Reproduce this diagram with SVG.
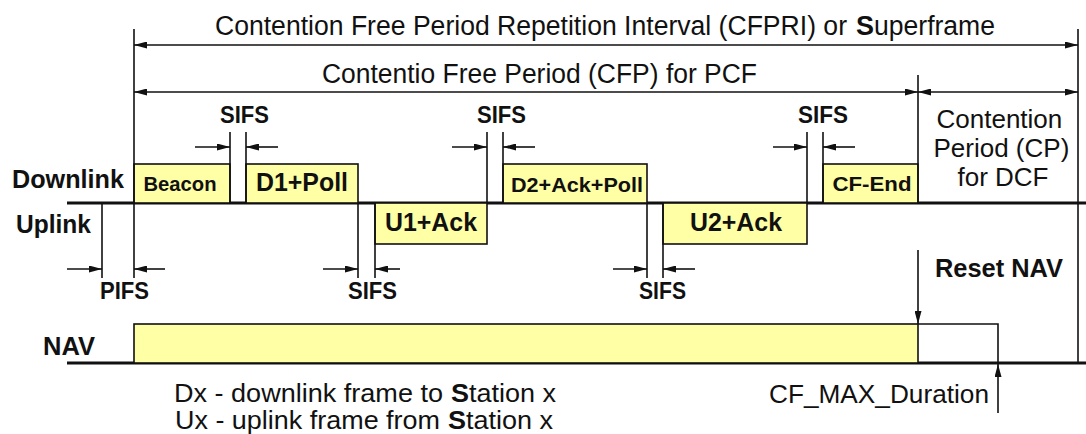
<svg xmlns="http://www.w3.org/2000/svg" width="1086" height="434" viewBox="0 0 1086 434">
  <style>
    .bg { fill: #ffffff; }
    .t { font-family: "Liberation Sans", Arial, sans-serif; fill: #111111; }
    .reg { font-weight: normal; }
    .b { font-weight: bold; }
    .frame { fill: #ffffa6; stroke: #111111; stroke-width: 1.6; }
    .axis { stroke: #111111; stroke-width: 3.2; fill: none; }
    .ln { stroke: #111111; stroke-width: 1.6; fill: none; }
    .arr { stroke: #111111; stroke-width: 1.6; fill: none; marker-end: url(#head); }
    .dbl { stroke: #111111; stroke-width: 1.6; fill: none; marker-start: url(#head); marker-end: url(#head); }
  </style>
  <defs>
    <marker id="head" viewBox="0 0 13 7" refX="13" refY="3.5" markerWidth="13" markerHeight="7" markerUnits="userSpaceOnUse" orient="auto-start-reverse">
      <path d="M0,0 L13,3.5 L0,7 z" fill="#111111"/>
    </marker>
  </defs>

  <rect class="bg" x="0" y="0" width="1086" height="434"/>

  <!-- interval spans (the bold initial is set as its own run) -->
  <g id="cfpri">
    <text class="t reg" x="215" y="35" font-size="27" textLength="632" lengthAdjust="spacingAndGlyphs">Contention Free Period Repetition Interval (CFPRI) or</text>
    <text class="t b" x="856" y="35" font-size="27" textLength="18" lengthAdjust="spacingAndGlyphs">S</text>
    <text class="t reg" x="874" y="35" font-size="27" textLength="121" lengthAdjust="spacingAndGlyphs">uperframe</text>
  </g>
  <g id="cfp">
    <text class="t reg" x="322" y="83" font-size="27" textLength="435" lengthAdjust="spacingAndGlyphs">Contentio Free Period (CFP) for PCF</text>
  </g>
  <g id="cp">
    <text class="t reg" font-size="26" text-anchor="middle">
      <tspan x="1003" y="128">Contention</tspan>
      <tspan x="1005" y="157">Period (CP)</tspan>
      <tspan x="1003" y="186">for DCF</tspan>
    </text>
  </g>

  <!-- row labels -->
  <g id="label-downlink"><text class="t b" x="12" y="188" font-size="25" textLength="112" lengthAdjust="spacingAndGlyphs">Downlink</text></g>
  <g id="label-uplink"><text class="t b" x="16" y="233" font-size="25" textLength="75" lengthAdjust="spacingAndGlyphs">Uplink</text></g>
  <g id="label-nav"><text class="t b" x="43" y="355" font-size="25" textLength="52" lengthAdjust="spacingAndGlyphs">NAV</text></g>

  <!-- time axes -->
  <g id="axes">
    <line class="axis" x1="67" y1="203" x2="1086" y2="203"/>
    <line class="axis" x1="67" y1="363" x2="1086" y2="363"/>
  </g>

  <!-- frames -->
  <g id="beacon">
    <rect class="frame" x="134" y="164" width="96" height="39"/>
    <text class="t b" x="180" y="191" font-size="20" text-anchor="middle" textLength="73" lengthAdjust="spacingAndGlyphs">Beacon</text>
  </g>
  <g id="d1-poll">
    <rect class="frame" x="246" y="164" width="112" height="39"/>
    <text class="t b" x="302" y="191" font-size="25" text-anchor="middle" textLength="92" lengthAdjust="spacingAndGlyphs">D1+Poll</text>
  </g>
  <g id="u1-ack">
    <rect class="frame" x="375" y="203" width="112" height="41"/>
    <text class="t b" x="431" y="231" font-size="25" text-anchor="middle" textLength="92" lengthAdjust="spacingAndGlyphs">U1+Ack</text>
  </g>
  <g id="d2-ack-poll">
    <rect class="frame" x="503" y="164" width="144" height="39"/>
    <text class="t b" x="577" y="192" font-size="21" text-anchor="middle" textLength="132" lengthAdjust="spacingAndGlyphs">D2+Ack+Poll</text>
  </g>
  <g id="u2-ack">
    <rect class="frame" x="663" y="203" width="144" height="41"/>
    <text class="t b" x="736" y="231" font-size="25" text-anchor="middle" textLength="92" lengthAdjust="spacingAndGlyphs">U2+Ack</text>
  </g>
  <g id="cf-end">
    <rect class="frame" x="823" y="164" width="95" height="39"/>
    <text class="t b" x="872" y="191" font-size="21" text-anchor="middle" textLength="79" lengthAdjust="spacingAndGlyphs">CF-End</text>
  </g>
  <g id="nav">
    <rect class="frame" x="134" y="324" width="784" height="39"/>
  </g>

  <!-- interframe space labels -->
  <g id="ifs-labels">
    <text class="t b" x="220" y="123" font-size="23" textLength="49" lengthAdjust="spacingAndGlyphs">SIFS</text>
    <text class="t b" x="477" y="123" font-size="23" textLength="49" lengthAdjust="spacingAndGlyphs">SIFS</text>
    <text class="t b" x="798" y="123" font-size="23" textLength="50" lengthAdjust="spacingAndGlyphs">SIFS</text>
    <text class="t b" x="100" y="299" font-size="24" textLength="49" lengthAdjust="spacingAndGlyphs">PIFS</text>
    <text class="t b" x="348" y="299" font-size="24" textLength="49" lengthAdjust="spacingAndGlyphs">SIFS</text>
    <text class="t b" x="639" y="299" font-size="24" textLength="47" lengthAdjust="spacingAndGlyphs">SIFS</text>
  </g>

  <g id="reset-nav"><text class="t b" x="935" y="277" font-size="25" textLength="128" lengthAdjust="spacingAndGlyphs">Reset NAV</text></g>
  <g id="cf-max"><text class="t reg" x="769" y="403" font-size="26" textLength="220" lengthAdjust="spacingAndGlyphs">CF_MAX_Duration</text></g>

  <g id="legend">
    <text class="t reg" x="174" y="402" font-size="26" textLength="269" lengthAdjust="spacingAndGlyphs">Dx - downlink frame to</text>
    <text class="t b" x="451" y="402" font-size="26" textLength="18" lengthAdjust="spacingAndGlyphs">S</text>
    <text class="t reg" x="469" y="402" font-size="26" textLength="87" lengthAdjust="spacingAndGlyphs">tation x</text>
    <text class="t reg" x="175" y="429" font-size="26" textLength="265" lengthAdjust="spacingAndGlyphs">Ux - uplink frame from</text>
    <text class="t b" x="448" y="429" font-size="26" textLength="18" lengthAdjust="spacingAndGlyphs">S</text>
    <text class="t reg" x="466" y="429" font-size="26" textLength="87" lengthAdjust="spacingAndGlyphs">tation x</text>
  </g>

  <!-- boundaries, span arrows and gap markers -->
  <g id="connectors">
    <!-- period boundaries -->
    <line class="ln" x1="134" y1="29" x2="134" y2="278"/>
    <line class="ln" x1="1078" y1="29" x2="1078" y2="363"/>
    <line class="ln" x1="918" y1="75" x2="918" y2="203"/>
    <!-- span arrows -->
    <line class="dbl" x1="134" y1="45" x2="1078" y2="45"/>
    <line class="dbl" x1="134" y1="92" x2="918" y2="92"/>
    <line class="dbl" x1="918" y1="92" x2="1078" y2="92"/>
    <!-- gap extension lines above the downlink axis -->
    <line class="ln" x1="230" y1="132" x2="230" y2="203"/>
    <line class="ln" x1="246" y1="132" x2="246" y2="203"/>
    <line class="ln" x1="487" y1="132" x2="487" y2="203"/>
    <line class="ln" x1="503" y1="132" x2="503" y2="203"/>
    <line class="ln" x1="807" y1="132" x2="807" y2="203"/>
    <line class="ln" x1="823" y1="132" x2="823" y2="203"/>
    <!-- gap extension lines below the downlink axis -->
    <line class="ln" x1="102" y1="203" x2="102" y2="278"/>
    <line class="ln" x1="358" y1="203" x2="358" y2="278"/>
    <line class="ln" x1="375" y1="203" x2="375" y2="278"/>
    <line class="ln" x1="647" y1="203" x2="647" y2="278"/>
    <line class="ln" x1="663" y1="203" x2="663" y2="278"/>
    <!-- SIFS markers above -->
    <line class="arr" x1="195" y1="147" x2="230" y2="147"/>
    <line class="arr" x1="278" y1="147" x2="246" y2="147"/>
    <line class="arr" x1="452" y1="147" x2="487" y2="147"/>
    <line class="arr" x1="535" y1="147" x2="503" y2="147"/>
    <line class="arr" x1="773" y1="147" x2="807" y2="147"/>
    <line class="arr" x1="855" y1="147" x2="823" y2="147"/>
    <!-- PIFS / SIFS markers below -->
    <line class="arr" x1="67" y1="269" x2="102" y2="269"/>
    <line class="arr" x1="165" y1="269" x2="134" y2="269"/>
    <line class="arr" x1="323" y1="269" x2="358" y2="269"/>
    <line class="arr" x1="400" y1="269" x2="375" y2="269"/>
    <line class="arr" x1="613" y1="269" x2="647" y2="269"/>
    <line class="arr" x1="695" y1="269" x2="663" y2="269"/>
    <!-- NAV reset and maximum duration -->
    <line class="arr" x1="918" y1="250" x2="918" y2="324"/>
    <polyline class="ln" points="918,324 998,324 998,363"/>
    <line class="arr" x1="998" y1="413" x2="998" y2="364"/>
  </g>
</svg>
